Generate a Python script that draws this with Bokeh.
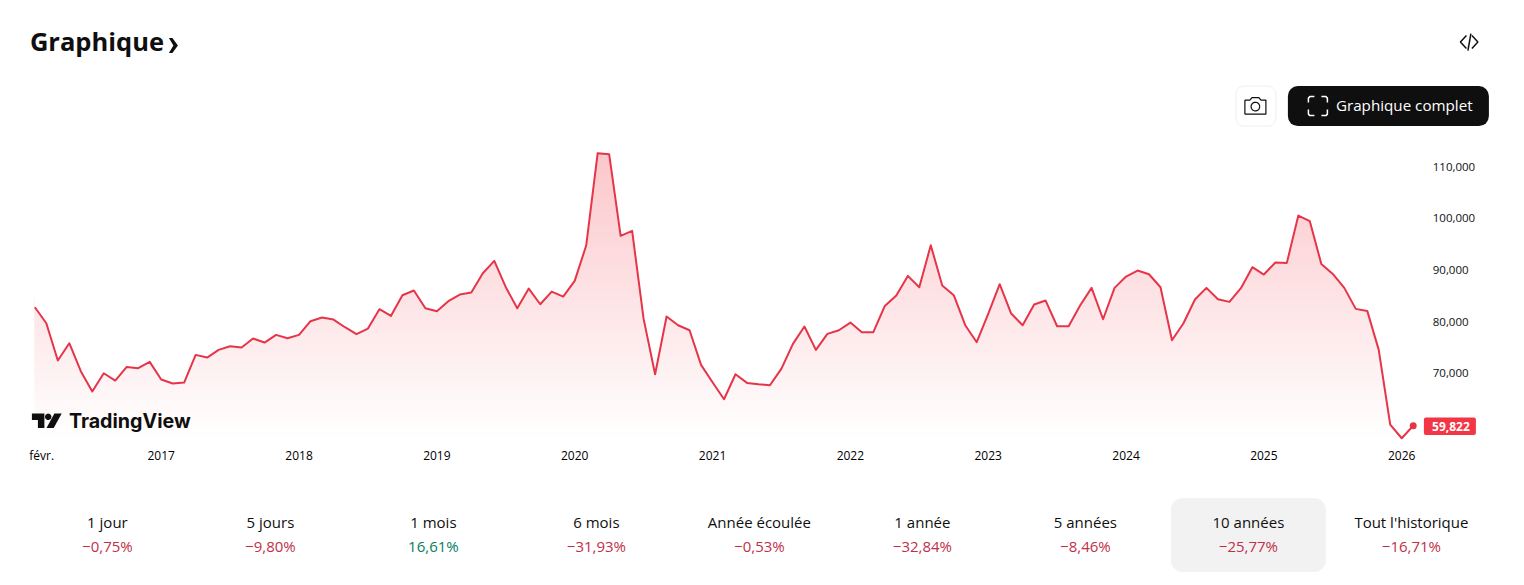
import numpy as np
from bokeh.plotting import figure
from bokeh.models import Range1d, FixedTicker, NumeralTickFormatter, Label, BoxAnnotation
from bokeh.embed import file_html
from bokeh.resources import INLINE

values = [82797,79696,72461,75820,70394,66453,70006,68585,71234,70975,72203,
          68779,68004,68197,73559,73042,74528,75239,74980,76725,75949,77435,76789,
          77435,80084,80794,80407,78921,77564,78663,82409,81117,85123,86027,82603,
          82022,83960,85252,85639,89386,91776,86673,82603,86415,83378,85833,84864,
          87900,94748,112642,112448,96621,97590,80536,69812,80988,79309,78340,71621,
          68262,64967,69812,68133,67874,67681,70911,75691,79050,74528,77629,78340,
          79825,77952,77952,83055,85058,88869,86673,94813,86996,85123,79309,76014,
          81505,87254,81570,79309,83314,84089,79115,79115,83120,86544,80471,86544,
          88740,89903,89192,86673,76402,79696,84283,86544,84347,83831,86479,90549,
          89128,91453,91389,100562,99464,91195,89257,86544,82474,82086,74528,60058,
          57409,59822]
months = list(range(len(values)))

year_ticks = [0.6, 11, 23, 35, 47, 59, 71, 83, 95, 107, 119]
year_labels = ["févr.", "2017", "2018", "2019", "2020", "2021", "2022", "2023", "2024", "2025", "2026"]
price_ticks = [70000, 80000, 90000, 100000, 110000]

periods = ["1 jour", "5 jours", "1 mois", "6 mois", "Année écoulée", "1 année", "5 années", "10 années", "Tout l'historique"]
changes = ["−0,75%", "−9,80%", "16,61%", "−31,93%", "−0,53%", "−32,84%", "−8,46%", "−25,77%", "−16,71%"]

FONT = "Open Sans"
RED = "#e63549"
INK = "#0f0f0f"
W, H = 1524, 585
# month index and price at the page edges
X0, X1 = -2.99, 129.69
Y0, Y1 = 28876, 142229
GRAD_BOTTOM, GRAD_TOP = 56957, 117035

p = figure(width=W, height=H, output_backend="svg", toolbar_location=None,
           x_range=Range1d(X0, X1), y_range=Range1d(Y0, Y1),
           x_axis_location="below", y_axis_location="right",
           min_border=0, background_fill_color="white", border_fill_color="white")
p.outline_line_color = None
p.grid.visible = False

# page-pixel ranges for page furniture
p.extra_x_ranges["px"] = Range1d(0.6, W + 0.6)
p.extra_y_ranges["px"] = Range1d(H + 0.4, 0.4)

xa = p.xaxis[0]
xa.fixed_location = GRAD_BOTTOM
xa.ticker = FixedTicker(ticks=year_ticks)
xa.major_label_overrides = {t: l for t, l in zip(year_ticks, year_labels)}
xa.axis_line_color = None
xa.major_tick_line_color = None
xa.minor_tick_line_color = None
xa.major_label_standoff = 0
xa.major_label_text_font = FONT
xa.major_label_text_font_size = "12px"
xa.major_label_text_color = "#000000"

ya = p.yaxis[0]
ya.fixed_location = 120.57
ya.ticker = FixedTicker(ticks=price_ticks)
ya.formatter = NumeralTickFormatter(format="0,0")
ya.axis_line_color = None
ya.major_tick_line_color = None
ya.minor_tick_line_color = None
ya.major_label_standoff = 7
ya.major_label_text_font = FONT
ya.major_label_text_font_size = "11.5px"
ya.major_label_text_color = INK

# vertical gradient: opaque bands painted bottom-up, then masked above the line
N = 90
levels = np.linspace(GRAD_BOTTOM, GRAD_TOP, N, endpoint=False)
grad_top_alpha = 0.30
colors = []
for i in range(N):
    a = grad_top_alpha * i / (N - 1)
    r, g, b = [int(round(255 - (255 - c) * a)) for c in (242, 54, 69)]
    colors.append(f"#{r:02x}{g:02x}{b:02x}")
band_top = max(values) + 2000
keep = levels < band_top
p.quad(left=months[0], right=months[-1], bottom=levels[keep], top=band_top,
       fill_color=[c for c, k in zip(colors, keep) if k], line_color=None)
mask_top = band_top + 3000
p.varea(x=[months[0] - 1] + months + [months[-1] + 1],
        y1=[mask_top] + values + [mask_top], y2=mask_top, fill_color="white", fill_alpha=1)

p.line(months, values, line_color=RED, line_width=2, line_join="round")
p.scatter([months[-1]], [values[-1]], size=7, fill_color=RED, line_color=None)


def box(l, r, t, b, fill, line=None, radius=0):
    p.add_layout(BoxAnnotation(left=l, right=r, top=t, bottom=b, x_range_name="px", y_range_name="px",
                               fill_color=fill, fill_alpha=1, line_color=line, line_alpha=1 if line else 0,
                               border_radius=radius))


def solid(xs, ys, color=INK):
    p.patch(list(xs), list(ys), fill_color=color, line_color=None, level="overlay",
            x_range_name="px", y_range_name="px")


def stroke(xs, ys, color=INK, width=1.5):
    p.line(list(xs), list(ys), line_color=color, line_width=width, level="overlay",
           x_range_name="px", y_range_name="px")


def text(x, y, s, size, color=INK, align="left", bold=False, font=FONT):
    p.add_layout(Label(x=x, y=y - 1, text=s, x_range_name="px", y_range_name="px",
                       text_font=font, text_font_size=f"{size}px", text_color=color,
                       text_align=align, text_baseline="middle", text_font_style="bold" if bold else "normal"))


# title
text(30, 42, "Graphique", 25.5, bold=True)
solid([169, 172.5, 178, 172.5, 169, 173.5], [38, 38, 45.5, 53, 53, 45.5])

# </> icon
stroke([1466.5, 1460.5, 1466.5], [35.5, 42, 48.5])
stroke([1472, 1478, 1472], [35.5, 42, 48.5])
stroke([1471, 1468], [33.5, 50.5])

# buttons
box(1236, 1276, 126, 86, "white", "#eeeeee", 8)
theta = np.linspace(0, 2 * np.pi, 36)
stroke([1245, 1250, 1252, 1259, 1261, 1266, 1266, 1245, 1245], [100, 100, 97.5, 97.5, 100, 100, 114, 114, 100], width=1.2)
stroke(1255.5 + 4.3 * np.cos(theta), 106.5 + 4.3 * np.sin(theta), width=1.2)
box(1288, 1489, 126, 86, INK, None, 10)
for sx, sy in [(1308.5, 96.5), (1327.5, 96.5), (1308.5, 115.5), (1327.5, 115.5)]:
    dx = 1 if sx < 1315 else -1
    dy = 1 if sy < 105 else -1
    stroke([sx + 6 * dx, sx + 1.5 * dx, sx, sx], [sy, sy, sy + 1.5 * dy, sy + 6 * dy], color="white", width=1.5)
text(1336, 106, "Graphique complet", 15.2, color="#ffffff")

# price tag
box(1424, 1476, 435, 417.5, "#f23645", None, 2)
text(1451, 427, f"{values[-1]:,}", 12, color="#ffffff", align="center", bold=True)

# logo
solid([32, 44.5, 44.5, 38, 38, 32], [413.5, 413.5, 428, 428, 420, 420])
solid(48.3 + 3.2 * np.cos(theta), 416.7 + 3.2 * np.sin(theta))
solid([54.5, 61.8, 53.8, 46.6], [413.5, 413.5, 428, 428])
text(69, 422, "TradingView", 19.7, bold=True, font="Inter")

# period strip
box(1171, 1326, 572, 498, "#f2f2f2", None, 12)
centers = [107.5 + 163 * i for i in range(len(periods))]
for c, name, ch in zip(centers, periods, changes):
    text(c, 523, name, 15, align="center")
    text(c, 547, ch, 15, color="#067d62" if not ch.startswith("−") else "#bf3049", align="center")

open("out.html", "w").write(file_html(p, INLINE))
